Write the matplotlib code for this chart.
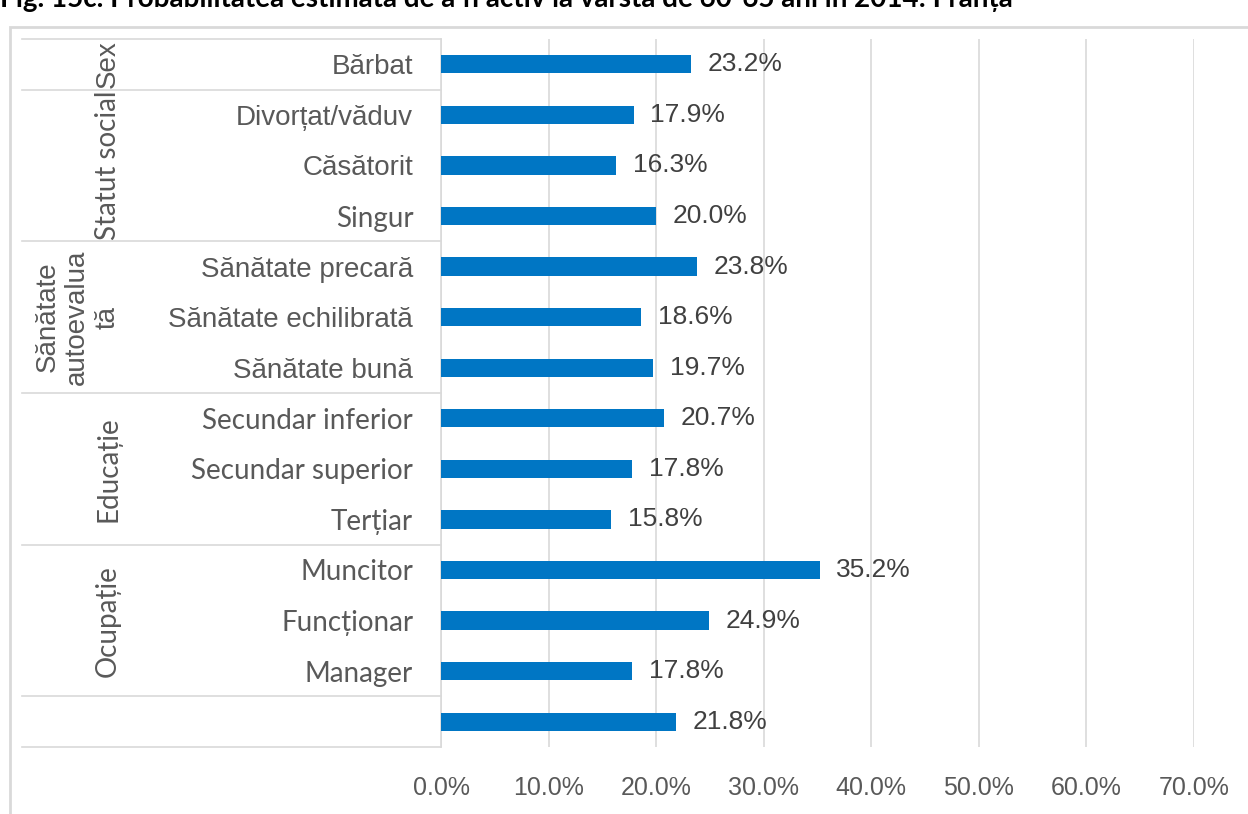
import matplotlib.pyplot as plt
from matplotlib.patches import Rectangle
import matplotlib.transforms as mtransforms

title = 'Fig. 15c. Probabilitatea estimată de a fi activ la vârsta de 60-65 ani în 2014: Franța'

categories = ['Bărbat', 'Divorțat/văduv', 'Căsătorit', 'Singur',
              'Sănătate precară', 'Sănătate echilibrată', 'Sănătate bună',
              'Secundar inferior', 'Secundar superior', 'Terțiar',
              'Muncitor', 'Funcționar', 'Manager', '']
values = [23.2, 17.9, 16.3, 20.0, 23.8, 18.6, 19.7, 20.7, 17.8, 15.8, 35.2, 24.9, 17.8, 21.8]

group_names = ['Sex', 'Statut social', 'Sănătate\nautoevalua\ntă', 'Educație', 'Ocupație', '']
group_sizes = [1, 3, 3, 3, 3, 1]

ticks = [0, 10, 20, 30, 40, 50, 60, 70]

# labels set in the narrower "Calibri" look, the rest in Arial look
narrow_labels = ['Singur', 'Secundar inferior', 'Secundar superior', 'Terțiar',
                 'Muncitor', 'Funcționar', 'Manager', 'Statut social', 'Educație', 'Ocupație']

ARIAL = ['Liberation Sans', 'DejaVu Sans']
CALIBRI = ['Lato', 'DejaVu Sans']
NARROW = ['Liberation Sans Narrow', 'Liberation Sans', 'DejaVu Sans']
GRID = '#D9D9D9'
TXT = '#595959'
BLUE = '#0076C4'

fig = plt.figure(figsize=(12.48, 8.14), dpi=100)
ax = fig.add_axes([441/1248, 1 - 747/814, 753/1248, 708/814])

y = list(range(len(categories)))
frac = [v / 100 for v in values]
ax.barh(y, frac, height=0.36, color=BLUE, zorder=3)

for yi, f, v in zip(y, frac, values):
    ax.annotate(f'{v:.1f}%', (f, yi), xytext=(12, 0), textcoords='offset points',
                va='center', ha='left', fontsize=19, color='#404040', family=NARROW)

ax.set_xlim(0, 0.7)
ax.set_ylim(len(categories) - 0.5, -0.5)
ax.set_xticks([t / 100 for t in ticks])
ax.set_xticklabels([f'{t:.1f}%' for t in ticks], fontsize=18, color=TXT, family=NARROW)
ax.tick_params(axis='x', length=0, pad=21)
ax.grid(axis='x', color=GRID, lw=1.2, zorder=0)

ax.set_yticks(y)
ax.set_yticklabels(categories, fontsize=20, color=TXT)
ax.tick_params(axis='y', length=0, pad=20)
for lab in ax.get_yticklabels():
    lab.set_family(CALIBRI if lab.get_text() in narrow_labels else ARIAL)

for s in ['top', 'right', 'bottom']:
    ax.spines[s].set_visible(False)
ax.spines['left'].set_color(GRID)
ax.spines['left'].set_linewidth(1.2)

# group separators and rotated group names to the left of the axis
trans = mtransforms.blended_transform_factory(ax.transAxes, ax.transData)
start = -0.5
ax.plot([-0.556, 0], [start, start], color=GRID, lw=1.2, transform=trans, clip_on=False)
for name, n in zip(group_names, group_sizes):
    end = start + n
    ax.plot([-0.556, 0], [end, end], color=GRID, lw=1.2, transform=trans, clip_on=False)
    mid = (start + end) / 2
    xpos = -0.483 if '\n' in name else -0.442
    ax.text(xpos, mid, name, rotation=90, ha='center', va='center', multialignment='center',
            fontsize=20, color=TXT, transform=trans, linespacing=1.2,
            family=CALIBRI if name in narrow_labels else ARIAL)
    start = end

# chart frame and title strip along the top edge
fig.add_artist(Rectangle((10/1248, -0.1), 1.2, 0.1 + 1 - 27/814, transform=fig.transFigure,
                         fill=False, edgecolor=GRID, lw=2))
fig.text(0.0, 1 - 7/814, title, ha='left', va='baseline', fontsize=20,
         fontweight='bold', color='black', family=CALIBRI)

fig.savefig('out.png', dpi=100)
